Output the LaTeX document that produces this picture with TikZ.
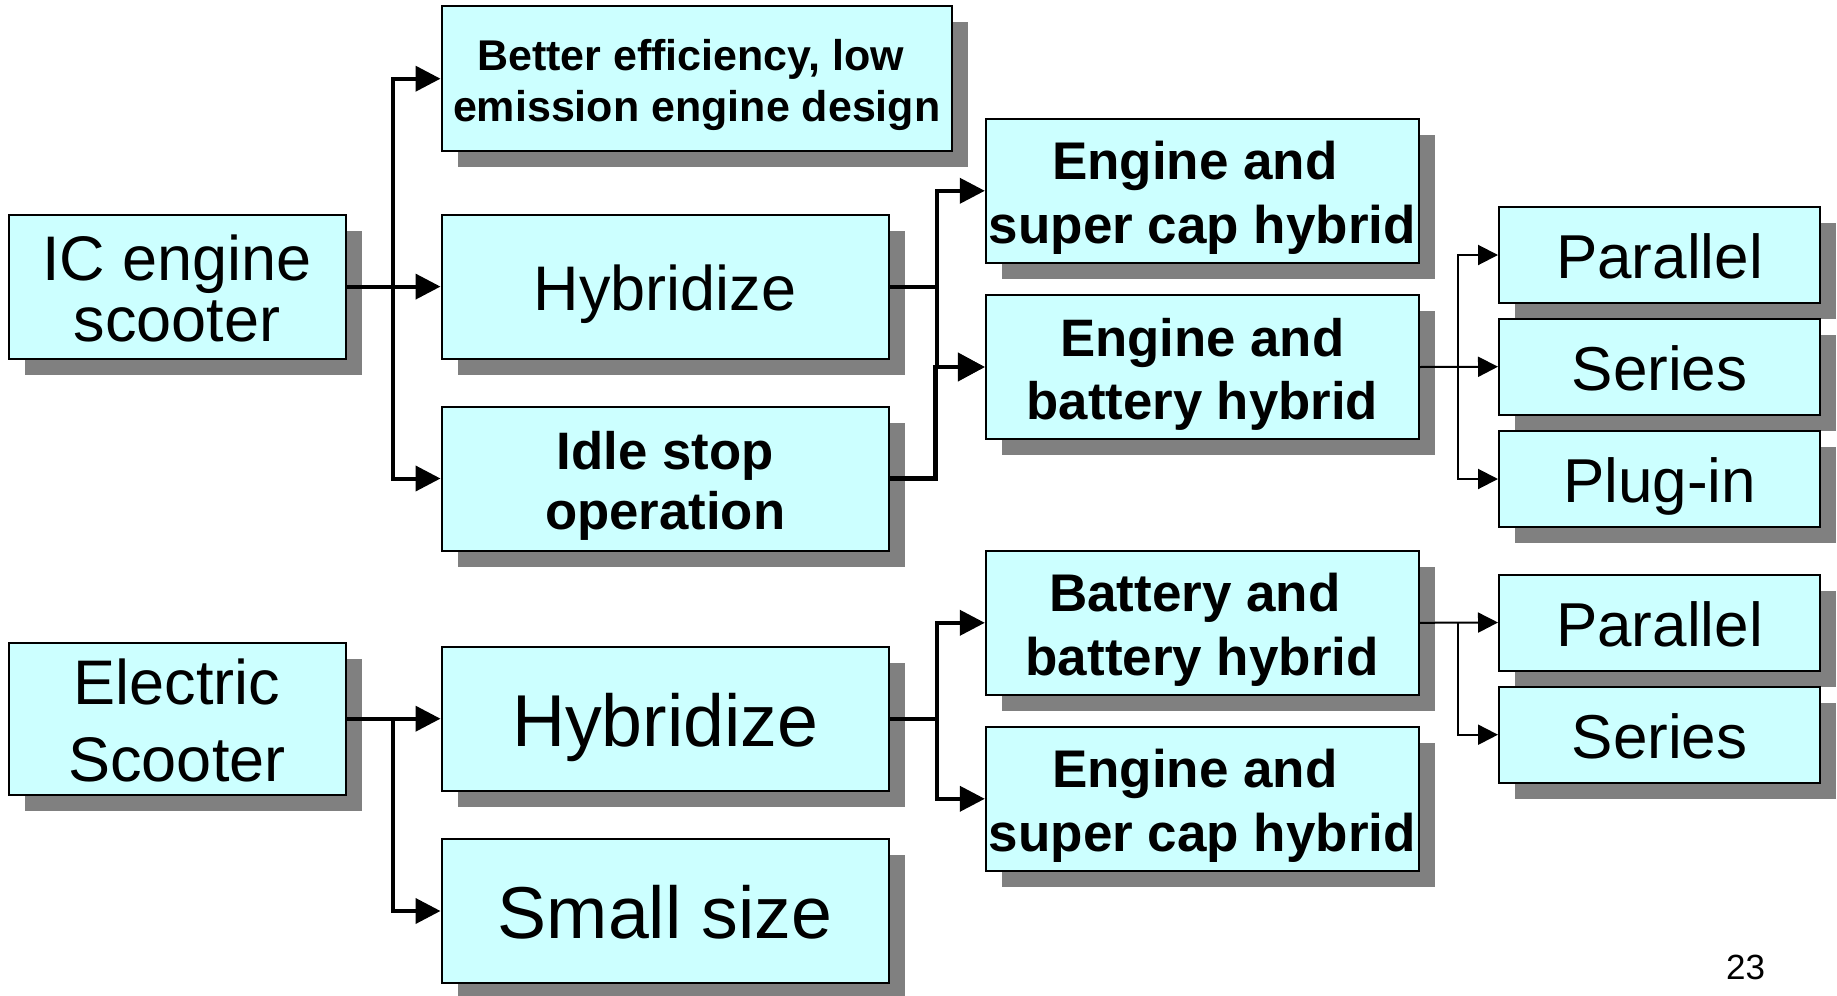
\documentclass[tikz,border=0pt]{standalone}
\usepackage{fontspec}
\setmainfont{Liberation Sans}
\usetikzlibrary{arrows.meta,shadows}

\definecolor{boxfill}{HTML}{CCFFFF}
\definecolor{shadowgray}{HTML}{808080}

% struts reproducing the ascent/descent of the outer text lines
\newcommand\hiStrut{\rule{0pt}{\dimexpr0.905em+5pt\relax}}
\newcommand\loStrut{\rule[-0.212em]{0pt}{0pt}}
% a wrapped line that keeps its trailing space
\newcommand\trailsp{\hspace*{0.278em}}

\begin{document}
\begin{tikzpicture}[x=1pt,y=-1pt,
  card/.style={draw=black, line width=2pt, fill=boxfill, inner sep=0pt,
    align=center, minimum height=144pt,
    drop shadow={shadow xshift=16pt, shadow yshift=-16pt, fill=shadowgray, opacity=1}},
  wide/.style={card, minimum width=447.5pt},
  mid/.style={card, minimum width=433pt},
  leaf/.style={card, minimum width=321pt, minimum height=96pt,
    font=\fontsize{62}{62}\selectfont},
  root/.style={card, minimum width=337pt},
  link/.style={line width=4pt, -{Triangle[length=25pt,width=25pt]}},
  boldlink/.style={line width=4.6pt, -{Triangle[length=27pt,width=28pt]}},
  thin/.style={line width=2pt, -{Triangle[length=20pt,width=20pt]}},
  plain/.style={line width=4pt}
]
\useasboundingbox (0,0) rectangle (1837,996);

% ---- IC engine branch ----
\node[root, font=\fontsize{63}{61.5}\selectfont] (ic) at (177,286.6)
  {\hiStrut IC engine\\scooter\loStrut};
\node[card, minimum width=510.5pt, minimum height=144.6pt,
  font=\bfseries\fontsize{43}{51}\selectfont] (better) at (696.75,78.7)
  {\hiStrut Better efficiency, low\trailsp\\emission engine design\loStrut};
\node[wide, font=\fontsize{63}{63}\selectfont] (hyb1) at (665.25,286.6)
  {\hiStrut Hybridize\loStrut};
\node[wide, font=\bfseries\fontsize{52.7}{60}\selectfont] (idle) at (665.25,478.5)
  {\hiStrut Idle stop\\operation\loStrut};

\node[mid, font=\bfseries\fontsize{53}{63.4}\selectfont] (esc1) at (1202.3,190.8)
  {\hiStrut Engine and\trailsp\\super cap hybrid\loStrut};
\node[mid, font=\bfseries\fontsize{52.7}{62.7}\selectfont] (ebat) at (1202.3,367)
  {\hiStrut Engine and\\battery hybrid\loStrut};

\node[leaf] (par1) at (1659.5,255) {\hiStrut Parallel\loStrut};
\node[leaf] (ser1) at (1659.5,366.7) {\hiStrut Series\loStrut};
\node[leaf] (plug) at (1659.5,479) {\hiStrut Plug-in\loStrut};

% ---- electric branch ----
\node[root, font=\fontsize{63}{77}\selectfont] (elec) at (177,718.7)
  {\hiStrut Electric\\Scooter\loStrut};
\node[wide, font=\fontsize{73.5}{73.5}\selectfont] (hyb2) at (665.25,718.7)
  {\hiStrut Hybridize\loStrut};
\node[wide, font=\fontsize{73.5}{73.5}\selectfont] (small) at (665.25,911)
  {\hiStrut Small size\loStrut};

\node[mid, font=\bfseries\fontsize{53}{64}\selectfont] (bat) at (1202.3,622.8)
  {\hiStrut Battery and\trailsp\\battery hybrid\loStrut};
\node[mid, font=\bfseries\fontsize{53}{63.4}\selectfont] (esc2) at (1202.3,798.8)
  {\hiStrut Engine and\trailsp\\super cap hybrid\loStrut};

\node[leaf] (par2) at (1659.5,622.5) {\hiStrut Parallel\loStrut};
\node[leaf] (ser2) at (1659.5,734.7) {\hiStrut Series\loStrut};

% page number
\node[anchor=base, inner sep=0pt, font=\fontsize{35}{35}\selectfont] (pageno)
  at (1745.5,979.3) {23};

% ---- vertical buses of the connectors ----
\coordinate (busA) at (392.5,0);
\coordinate (busB) at (937,0);
\coordinate (busC) at (1458.2,0);

% IC engine scooter fan-out
\draw[link] (ic.east) -- (hyb1.west);
\draw[link] (ic.east -| busA) |- (better.west);
\draw[link] (ic.east -| busA) |- (idle.west);

% Hybridize / idle stop to the hybrid types
\draw[plain] (hyb1.east) -- (hyb1.east -| busB);
\draw[link] (hyb1.east -| busB) |- (esc1.west);
\draw[link] (hyb1.east -| busB) |- (ebat.west);
\draw[boldlink] (idle.east) -| ([xshift=-1.5pt]ebat.west -| busB) -- (ebat.west);

% hybrid configurations
\draw[thin] (ebat.east) -- (ser1.west);
\draw[thin] (ebat.east -| busC) |- (par1.west);
\draw[thin] (ebat.east -| busC) |- (plug.west);

% electric scooter fan-out
\draw[link] (elec.east) -- (hyb2.west);
\draw[link] (elec.east -| busA) |- (small.west);

\draw[plain] (hyb2.east) -- (hyb2.east -| busB);
\draw[link] (hyb2.east -| busB) |- (bat.west);
\draw[link] (hyb2.east -| busB) |- (esc2.west);

\draw[thin] (bat.east) -- (par2.west);
\draw[thin] (bat.east -| busC) |- (ser2.west);
\end{tikzpicture}
\end{document}
